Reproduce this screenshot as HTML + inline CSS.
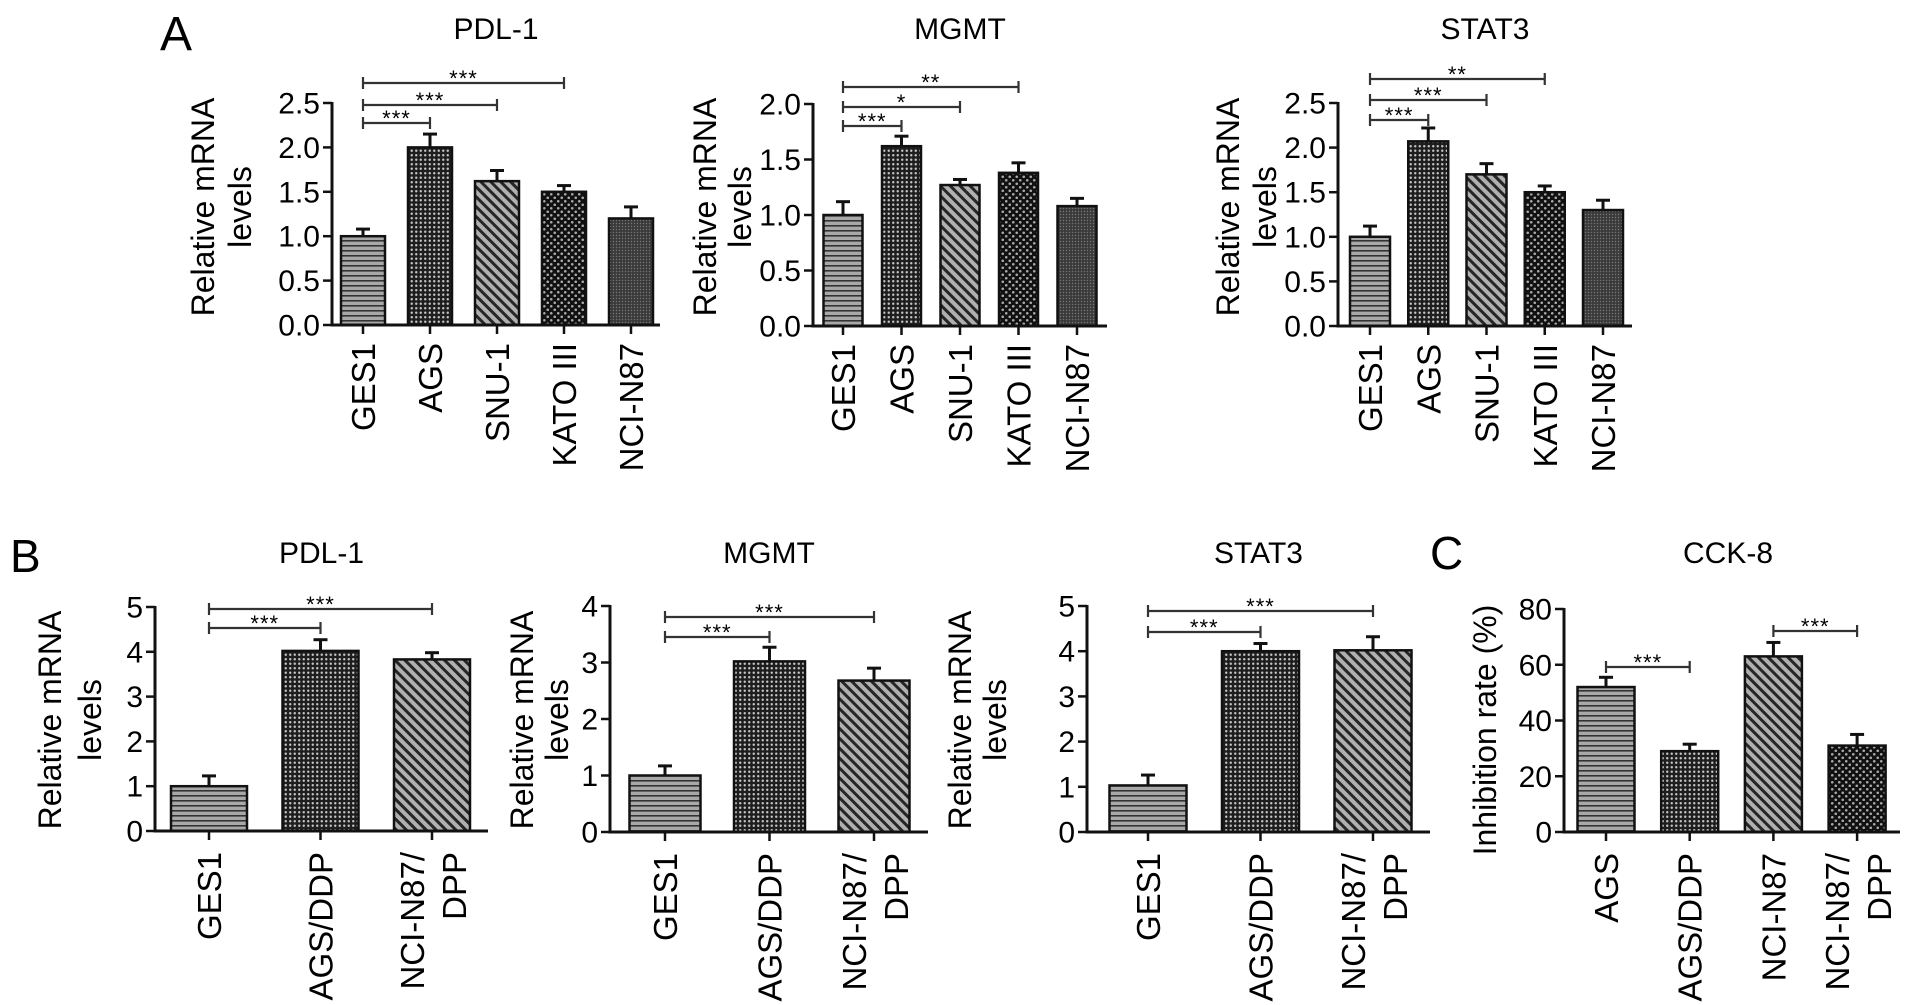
<!DOCTYPE html>
<html><head><meta charset="utf-8">
<style>
html,body{margin:0;padding:0;background:#fff;}
svg{display:block;font-family:"Liberation Sans",Arial,sans-serif;}
</style></head>
<body>
<svg id="fig" width="1913" height="1005" viewBox="0 0 1913 1005" xmlns="http://www.w3.org/2000/svg">
<defs>
  <pattern id="hstripe" width="8" height="5" patternUnits="userSpaceOnUse">
    <rect width="8" height="5" fill="#a8a8a8"/><rect y="0" width="8" height="1.6" fill="#333"/>
  </pattern>
  <pattern id="finedot" width="4.5" height="4.5" patternUnits="userSpaceOnUse">
    <rect width="4.5" height="4.5" fill="#1e1e1e"/><circle cx="2.25" cy="2.25" r="1.2" fill="#c4c4c4"/>
  </pattern>
  <pattern id="diag" width="7" height="7" patternUnits="userSpaceOnUse" patternTransform="rotate(-45)">
    <rect width="7" height="7" fill="#b0b0b0"/><rect x="0" width="3" height="7" fill="#262626"/>
  </pattern>
  <pattern id="coarsedot" width="7" height="7" patternUnits="userSpaceOnUse">
    <rect width="7" height="7" fill="#111"/><circle cx="1.75" cy="1.75" r="1.3" fill="#aaa"/><circle cx="5.25" cy="5.25" r="1.3" fill="#aaa"/>
  </pattern>
  <pattern id="greydot" width="3" height="3" patternUnits="userSpaceOnUse">
    <rect width="3" height="3" fill="#3a3a3a"/><circle cx="1.5" cy="1.5" r="0.7" fill="#777"/>
  </pattern>
</defs>
<text x="160" y="50" font-size="48">A</text>
<text x="10" y="572" font-size="46">B</text>
<text x="1430" y="569" font-size="46">C</text>
</svg>
<script>
// ---- data ----
const catsA = ["GES1","AGS","SNU-1","KATO III","NCI-N87"];
const catsB = ["GES1","AGS/DDP","NCI-N87/|DPP"];
const catsC = ["AGS","AGS/DDP","NCI-N87","NCI-N87/|DPP"];
const pdlA = [1.0, 2.0, 1.62, 1.5, 1.2];
const pdlAErr = [0.08, 0.15, 0.12, 0.07, 0.13];
const mgmtA = [1.0, 1.62, 1.27, 1.38, 1.08];
const mgmtAErr = [0.12, 0.09, 0.05, 0.09, 0.07];
const stat3A = [1.0, 2.07, 1.7, 1.5, 1.3];
const stat3AErr = [0.12, 0.15, 0.12, 0.07, 0.11];
const pdlB = [1.0, 4.02, 3.83];
const pdlBErr = [0.23, 0.25, 0.15];
const mgmtB = [1.0, 3.02, 2.68];
const mgmtBErr = [0.17, 0.25, 0.22];
const stat3B = [1.03, 4.0, 4.02];
const stat3BErr = [0.23, 0.17, 0.3];
const cck8 = [52, 29, 63, 31];
const cck8Err = [3.5, 2.5, 5, 4];
const ticksA1 = ["0.0","0.5","1.0","1.5","2.0","2.5"];
const ticksA2 = ["0.0","0.5","1.0","1.5","2.0"];
const ticksB5 = ["0","1","2","3","4","5"];
const ticksB4 = ["0","1","2","3","4"];
const ticksC = ["0","20","40","60","80"];
const sigA1 = ["***","***","***"];
const sigA2 = ["***","*","**"];
const sigA3 = ["***","***","**"];
const sigB = ["***","***"];
const sigC = ["***","***"];

const NS = "http://www.w3.org/2000/svg";
const svg = document.getElementById("fig");
function el(tag, attrs, parent){const e=document.createElementNS(NS,tag);for(const k in attrs)e.setAttribute(k,attrs[k]);(parent||svg).appendChild(e);return e;}

const patsA = ["hstripe","finedot","diag","coarsedot","greydot"];
const patsB = ["hstripe","finedot","diag"];
const patsC = ["hstripe","finedot","diag","coarsedot"];

function panel(o){
  const g = el("g",{});
  
  
  const yMax = o.max;
  const ys = v => o.y0 - (v/yMax)*(o.y0-o.yTop);
  const xs = i => o.c0 + i*o.step;
  const t = el("text",{x:(o.axisX+o.end)/2+ (o.titleDx||0), y:o.titleY, "font-size":30, "text-anchor":"middle"}, g);
  t.textContent = o.title;
  
  
  o.vals.forEach((v,i)=>{
    const cx = xs(i), top = ys(v), eTop = ys(v+o.err[i]);
    const eb = el("line",{x1:cx,x2:cx,y1:top,y2:eTop,stroke:"#111","stroke-width":3}, g);
    
    
    el("line",{x1:cx-7,x2:cx+7,y1:eTop,y2:eTop,stroke:"#111","stroke-width":3}, g);
    const r = el("rect",{x:cx-o.bw/2,y:top,width:o.bw,height:o.y0-top,fill:"url(#"+o.pats[i]+")",stroke:"#111","stroke-width":2.5}, g);
    
    
    el("line",{x1:cx,x2:cx,y1:o.y0,y2:o.y0+9,stroke:"#111","stroke-width":2.5}, g);
    const parts = o.cats[i].split("|");
    const lx = parts.length>1 ? [cx-20, cx+22] : [cx];
    parts.forEach((p,k)=>{
      const bx = lx[k]+12, by = o.y0+o.labGap;
      const tx = el("text",{x:bx,y:by,"font-size":33,"text-anchor":"end",transform:"rotate(-90 "+bx+" "+by+")"}, g);
      tx.textContent = p;
      
      
    });
  });
  const ya = el("line",{x1:o.axisX,x2:o.axisX,y1:o.yTop-1,y2:o.y0+1.5,stroke:"#111","stroke-width":3}, g);
  
  
  const xa = el("line",{x1:o.axisX-1.5,x2:o.end,y1:o.y0,y2:o.y0,stroke:"#111","stroke-width":3}, g);
  
  
  o.ticks.forEach((lab,i)=>{
    const v = i*yMax/(o.ticks.length-1), y = ys(v);
    el("line",{x1:o.axisX-9,x2:o.axisX,y1:y,y2:y,stroke:"#111","stroke-width":2.5}, g);
    const tt = el("text",{x:o.axisX-12,y:y+10.5,"font-size":30,"text-anchor":"end"}, g);
    tt.textContent = lab;
    
    
  });
  o.ylab.forEach((line,k)=>{
    const bx = o.ylx[k]+11, by = o.ylc;
    const yl = el("text",{x:bx,y:by,"font-size":32,"text-anchor":"middle",transform:"rotate(-90 "+bx+" "+by+")"}, g);
    yl.textContent = line;
    
    
  });
  o.br.forEach((b,k)=>{
    const x1 = xs(b[0]), x2 = xs(b[1]), y = b[2];
    const bl = el("path",{d:"M"+x1+" "+(y-6)+"V"+(y+6)+"M"+x1+" "+y+"H"+x2+"M"+x2+" "+(y-6)+"V"+(y+6),stroke:"#333","stroke-width":2.2,fill:"none"}, g);
    
    
    const st = el("text",{x:(x1+x2)/2,y:y+3,"font-size":22,"text-anchor":"middle","letter-spacing":"1"}, g);
    st.textContent = o.sig[k];
    
    
  });
}

panel({name:"chart-a-pdl1",title:"PDL-1",titleY:39,titleDx:0,vals:pdlA,err:pdlAErr,cats:catsA,pats:patsA,ticks:ticksA1,max:2.5,
  axisX:332,y0:325,yTop:103,c0:363,step:67,bw:44,end:660,labGap:18,ylab:["Relative mRNA","levels"],ylx:[203,240],ylc:207,
  br:[[0,1,123],[0,2,105],[0,3,83]],sig:sigA1});
panel({name:"chart-a-mgmt",title:"MGMT",titleY:39,titleDx:0,vals:mgmtA,err:mgmtAErr,cats:catsA,pats:patsA,ticks:ticksA2,max:2.0,
  axisX:813,y0:326,yTop:104,c0:843,step:58.5,bw:39,end:1107,labGap:18,ylab:["Relative mRNA","levels"],ylx:[705,740],ylc:207,
  br:[[0,1,126],[0,2,107],[0,3,87]],sig:sigA2});
panel({name:"chart-a-stat3",title:"STAT3",titleY:39,titleDx:0,vals:stat3A,err:stat3AErr,cats:catsA,pats:patsA,ticks:ticksA1,max:2.5,
  axisX:1338,y0:326,yTop:103,c0:1370,step:58.25,bw:40,end:1632,labGap:18,ylab:["Relative mRNA","levels"],ylx:[1228,1265],ylc:207,
  br:[[0,1,120],[0,2,100],[0,3,79]],sig:sigA3});
panel({name:"chart-b-pdl1",title:"PDL-1",titleY:563,titleDx:0,vals:pdlB,err:pdlBErr,cats:catsB,pats:patsB,ticks:ticksB5,max:5,
  axisX:155,y0:831,yTop:607,c0:209,step:111.5,bw:76,end:488,labGap:21,ylab:["Relative mRNA","levels"],ylx:[50,90],ylc:720,
  br:[[0,1,628],[0,2,609]],sig:sigB});
panel({name:"chart-b-mgmt",title:"MGMT",titleY:563,titleDx:0,vals:mgmtB,err:mgmtBErr,cats:catsB,pats:patsB,ticks:ticksB4,max:4,
  axisX:610,y0:832,yTop:606,c0:665,step:104.5,bw:71,end:928,labGap:21,ylab:["Relative mRNA","levels"],ylx:[522,557],ylc:720,
  br:[[0,1,637],[0,2,617]],sig:sigB});
panel({name:"chart-b-stat3",title:"STAT3",titleY:563,titleDx:0,vals:stat3B,err:stat3BErr,cats:catsB,pats:patsB,ticks:ticksB5,max:5,
  axisX:1087,y0:832,yTop:606,c0:1148,step:112.5,bw:77,end:1430,labGap:21,ylab:["Relative mRNA","levels"],ylx:[960,995],ylc:720,
  br:[[0,1,632],[0,2,611]],sig:sigB});
panel({name:"chart-c-cck8",title:"CCK-8",titleY:563,titleDx:-4,vals:cck8,err:cck8Err,cats:catsC,pats:patsC,ticks:ticksC,max:80,
  axisX:1564,y0:832,yTop:609,c0:1606,step:83.7,bw:57,end:1900,labGap:21,ylab:["Inhibition rate (%)"],ylx:[1485],ylc:730,
  br:[[0,1,667],[2,3,631]],sig:sigC});
</script>
</body></html>
